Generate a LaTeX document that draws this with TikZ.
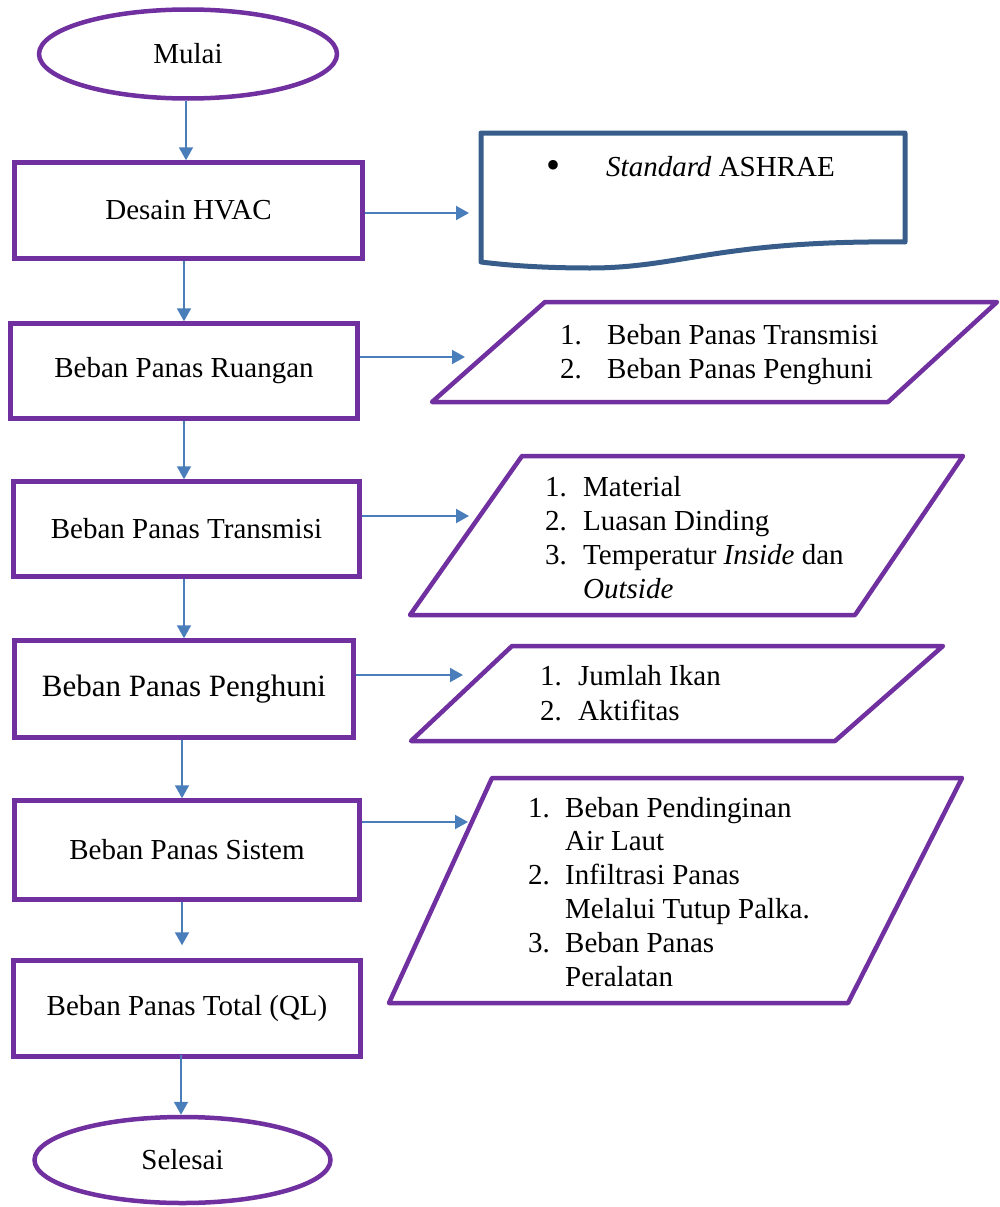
\documentclass[tikz,border=0pt]{standalone}
\usepackage{fontspec}
\setmainfont{Liberation Serif}
\usetikzlibrary{arrows.meta,shapes.geometric}
\definecolor{fpurple}{HTML}{7030A0}
\definecolor{fblue}{HTML}{4A7EBB}
\definecolor{fdoc}{HTML}{385D8A}
\newcommand{\numw}[2]{\makebox[#1][l]{#2}}
\begin{document}
\begin{tikzpicture}[x=1pt,y=-1pt,
  box/.style={draw=fpurple,line width=4.5pt,rectangle,inner sep=0pt,align=center,font=\fontsize{29}{34}\selectfont},
  term/.style={draw=fpurple,line width=4.5pt,ellipse,inner sep=0pt,font=\fontsize{29}{34}\selectfont},
  para/.style={draw=fpurple,line width=4.5pt,line join=round},
  docshape/.style={draw=fdoc,line width=5pt,line join=round},
  arr/.style={draw=fblue,line width=2pt,-{Triangle[length=13pt,width=14pt]}},
  lst/.style={inner sep=0pt,anchor=base west,font=\fontsize{29}{34}\selectfont}]
\useasboundingbox (0,0) rectangle (999,1207);

% left column
\node[term,minimum width=298pt,minimum height=89pt] (mulai) at (188,54) {Mulai};
\node[box,minimum width=348pt,minimum height=96pt] (desain) at (188.5,210.5) {Desain HVAC};
\node[box,minimum width=347pt,minimum height=95pt] (ruangan) at (184,371) {Beban Panas Ruangan};
\node[box,minimum width=346pt,minimum height=95pt] (transmisi) at (186.5,529) {Beban Panas Transmisi};
\node[box,minimum width=339pt,minimum height=97pt,font=\fontsize{31}{36}\selectfont] (penghuni) at (184,689) {Beban Panas Penghuni};
\node[box,minimum width=345pt,minimum height=99pt] (sistem) at (187,850) {Beban Panas Sistem};
\node[box,minimum width=347pt,minimum height=96pt] (total) at (187,1008.5) {Beban Panas Total (QL)};
\node[term,minimum width=296pt,minimum height=86pt] (selesai) at (182.5,1160) {Selesai};

% right column shapes
\draw[docshape] (481,133) -- (905,133) -- (905,242)
  .. controls (720,240) and (680,268) .. (590,268)
  .. controls (540,268) and (505,265) .. (481,262) -- cycle;
\node[lst] (docb) at (546,178) {\fontsize{40}{40}\selectfont\textbullet};
\node[lst] (doct) at (606,176) {\textit{Standard} ASHRAE};

\draw[para] (545,302) -- (997,302) -- (888,402) -- (432,402) -- cycle;
\node[lst] (l1) at (560,344) {\begin{tabular}[t]{@{}l@{}l@{}}\numw{47pt}{1.}&Beban Panas Transmisi\\ \numw{47pt}{2.}&Beban Panas Penghuni\end{tabular}};

\draw[para] (522,456) -- (963,456) -- (855,615) -- (410,615) -- cycle;
\node[lst] (l2) at (545,496) {\begin{tabular}[t]{@{}l@{}l@{}}\numw{38pt}{1.}&Material\\ \numw{38pt}{2.}&Luasan Dinding\\ \numw{38pt}{3.}&Temperatur \textit{Inside} dan\\ \numw{38pt}{}&\textit{Outside}\end{tabular}};

\draw[para] (512,646) -- (943,646) -- (835,741) -- (411,741) -- cycle;
\node[lst,font=\fontsize{29}{35}\selectfont] (l3) at (540,685) {\begin{tabular}[t]{@{}l@{}l@{}}\numw{38pt}{1.}&Jumlah Ikan\\ \numw{38pt}{2.}&Aktifitas\end{tabular}};

\draw[para] (492,778) -- (962,778) -- (848,1003) -- (389,1003) -- cycle;
\node[lst,font=\fontsize{29}{33.8}\selectfont] (l4) at (528,817) {\begin{tabular}[t]{@{}l@{}l@{}}\numw{37pt}{1.}&Beban Pendinginan\\ \numw{37pt}{}&Air Laut\\ \numw{37pt}{2.}&Infiltrasi Panas\\ \numw{37pt}{}&Melalui Tutup Palka.\\ \numw{37pt}{3.}&Beban Panas\\ \numw{37pt}{}&Peralatan\end{tabular}};

% arrow targets
\coordinate (docin) at (469,213);
\coordinate (p1in) at (465,357);
\coordinate (p2in) at (469,516);
\coordinate (p3in) at (463,675);
\coordinate (p4in) at (468,822);

% vertical connectors
\draw[arr] ([xshift=-2pt]mulai.south) -- ([xshift=-2pt]mulai.south |- desain.north);
\draw[arr] ([xshift=-4.5pt]desain.south) -- ([xshift=-4.5pt]desain.south |- ruangan.north);
\draw[arr] (ruangan.south) -- (ruangan.south |- transmisi.north);
\draw[arr] ([xshift=-2.5pt]transmisi.south) -- ([xshift=-2.5pt]transmisi.south |- penghuni.north);
\draw[arr] ([xshift=-2pt]penghuni.south) -- ([xshift=-2pt]penghuni.south |- sistem.north);
\draw[arr] ([xshift=-5pt]sistem.south) -- ([xshift=-5pt,yshift=13pt]sistem.south |- total.north);
\draw[arr] ([xshift=-6pt,yshift=4pt]total.south) -- ([xshift=-6pt]total.south |- selesai.north);

% horizontal connectors
\draw[arr] (desain.east |- docin) -- (docin);
\draw[arr] (ruangan.east |- p1in) -- (p1in);
\draw[arr] (transmisi.east |- p2in) -- (p2in);
\draw[arr] (penghuni.east |- p3in) -- (p3in);
\draw[arr] (sistem.east |- p4in) -- (p4in);
\end{tikzpicture}
\end{document}
